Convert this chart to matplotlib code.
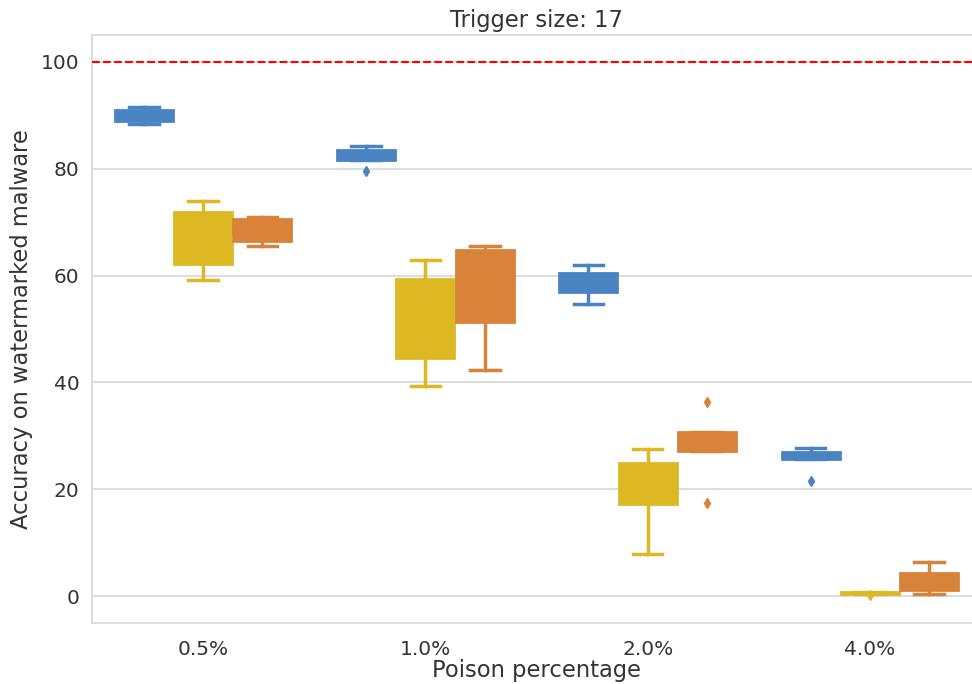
import matplotlib
matplotlib.use("Agg")
import matplotlib.pyplot as plt
import numpy as np

categories = ["0.5%", "1.0%", "2.0%", "4.0%"]
hue_colors = ["#4a83c2", "#ddb823", "#d8823a"]

# per hue: lists over categories
whislo = [[88.4, 81.6, 54.7, 25.7], [59.2, 39.3, 7.9, 0.4], [65.5, 42.3, 27.2, 0.5]]
q1 = [[89.0, 81.6, 56.9, 25.7], [62.2, 44.6, 17.2, 0.4], [66.5, 51.3, 27.2, 1.1]]
med = [[90.0, 82.5, 58.5, 26.3], [67.0, 52.0, 21.0, 0.6], [68.5, 58.0, 28.5, 2.5]]
q3 = [[91.0, 83.5, 60.5, 27.0], [71.9, 59.4, 24.9, 0.8], [70.5, 64.8, 30.7, 4.3]]
whishi = [[91.6, 84.3, 62.0, 27.7], [74.0, 62.9, 27.5, 0.8], [71.0, 65.5, 30.7, 6.4]]
fliers = [[[], [79.6], [], [21.5]], [[], [], [], [0.3]], [[], [], [36.3, 17.4], []]]

title = "Trigger size: 17"
xlabel = "Poison percentage"
ylabel = "Accuracy on watermarked malware"
ref_line = 100

plt.rcParams["font.family"] = ["DejaVu Sans"]
fig = plt.figure(figsize=(9.72, 6.84), dpi=100)
ax = fig.add_axes([0.0947, 0.0892, 0.9146, 0.8596])

n_hue = 3
w = 0.8 / n_hue
for h in range(n_hue):
    stats = []
    for c in range(len(categories)):
        stats.append(dict(whislo=whislo[h][c], q1=q1[h][c], med=med[h][c],
                          q3=q3[h][c], whishi=whishi[h][c], fliers=fliers[h][c]))
    pos = np.arange(len(categories)) + (h - 1) * w
    col = hue_colors[h]
    ax.bxp(stats, positions=pos, widths=w * 0.98, capwidths=w * 0.5,
           patch_artist=True, showfliers=True,
           boxprops=dict(facecolor=col, edgecolor=col, linewidth=2),
           whiskerprops=dict(color=col, linewidth=2.5),
           capprops=dict(color=col, linewidth=2.5),
           medianprops=dict(color=col, linewidth=2),
           flierprops=dict(marker="d", markerfacecolor=col, markeredgecolor=col,
                           markersize=5, linestyle="none"),
           zorder=3)

ax.axhline(ref_line, color="red", linestyle="--", linewidth=1.5, zorder=4)

ax.set_xlim(-0.5, len(categories) - 0.5)
ax.set_ylim(-5, 105)
ax.set_xticks(np.arange(len(categories)))
ax.set_xticklabels(categories)
ax.set_yticks([0, 20, 40, 60, 80, 100])
ax.tick_params(axis="both", labelsize=14.5, colors="#333333", length=0)
ax.tick_params(axis="x", pad=12)
ax.tick_params(axis="y", pad=9)
ax.grid(axis="y", color="#dddddd", linewidth=1.5, zorder=0)
ax.set_axisbelow(True)
for s in ax.spines.values():
    s.set_color("#dddddd")
    s.set_linewidth(1.5)
ax.set_title(title, fontsize=16.3, color="#333333", pad=6)
ax.set_xlabel(xlabel, fontsize=16.3, color="#333333", labelpad=0)
ax.set_ylabel(ylabel, fontsize=16.3, color="#333333", labelpad=6)

fig.savefig("out.png", dpi=100)
